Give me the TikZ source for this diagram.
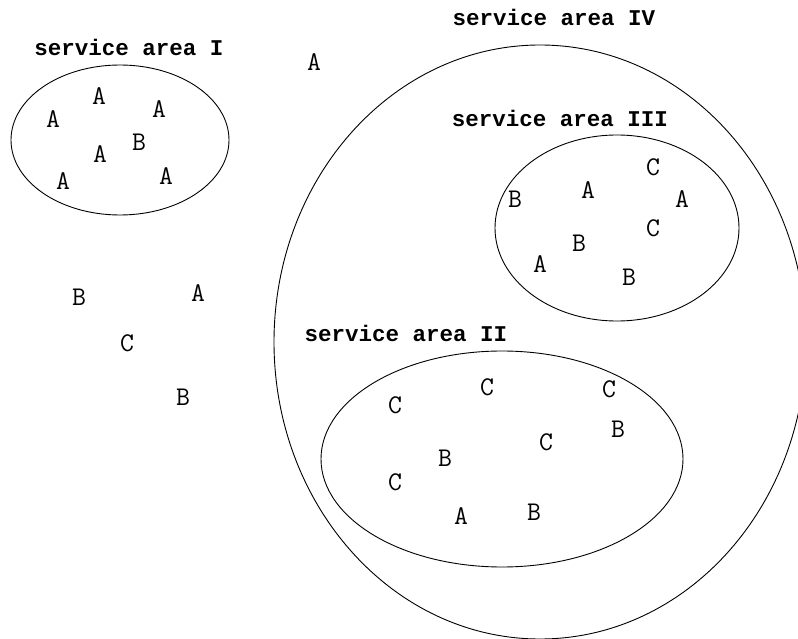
\documentclass[tikz,border=0pt]{standalone}
\usepackage{fontspec}
\newfontfamily\lblfont{Liberation Mono}
\begin{document}
\begin{tikzpicture}[x=1pt,y=-1pt,
  area/.style={draw=black,line width=0.9pt},
  lbl/.style={font=\lblfont\bfseries\fontsize{22.5}{24}\selectfont,inner sep=0pt},
  pt/.style={font=\ttfamily\fontsize{27}{29}\selectfont,inner sep=0pt}]
\useasboundingbox (0,0) rectangle (798,639);
\clip (0,0) rectangle (798,639);
% ellipses
\draw[area] (120,140) ellipse [x radius=109, y radius=75];
\draw[area] (540,342) ellipse [x radius=266, y radius=297];
\draw[area] (617,228) ellipse [x radius=122, y radius=93];
\draw[area] (502,459) ellipse [x radius=181, y radius=108];
% labels
\node[lbl] (l1) at (129,47) {service area I};
\node[lbl] (l4) at (554,17) {service area IV};
\node[lbl] (l3) at (560,118) {service area III};
\node[lbl] (l2) at (406,333) {service area II};
% area I
\node[pt] (a1) at (53,119) {A};
\node[pt] (a2) at (99,96) {A};
\node[pt] (a3) at (159,109) {A};
\node[pt] (a4) at (139,142) {B};
\node[pt] (a5) at (100,154) {A};
\node[pt] (a6) at (63,181) {A};
\node[pt] (a7) at (166,176) {A};
% outside
\node[pt] (o1) at (314,62) {A};
\node[pt] (o2) at (79,297) {B};
\node[pt] (o3) at (198,293) {A};
\node[pt] (o4) at (127,343) {C};
\node[pt] (o5) at (183,397) {B};
% area III
\node[pt] (c1) at (653,167) {C};
\node[pt] (c2) at (515,199) {B};
\node[pt] (c3) at (588,190) {A};
\node[pt] (c4) at (682,199) {A};
\node[pt] (c5) at (653,228) {C};
\node[pt] (c6) at (579,243) {B};
\node[pt] (c7) at (540,264) {A};
\node[pt] (c8) at (629,277) {B};
% area II
\node[pt] (b1) at (395,405) {C};
\node[pt] (b2) at (487,387) {C};
\node[pt] (b3) at (609,389) {C};
\node[pt] (b4) at (618,429) {B};
\node[pt] (b5) at (546,442) {C};
\node[pt] (b6) at (445,458) {B};
\node[pt] (b7) at (395,482) {C};
\node[pt] (b8) at (461,516) {A};
\node[pt] (b9) at (534,512) {B};
\end{tikzpicture}
\end{document}
